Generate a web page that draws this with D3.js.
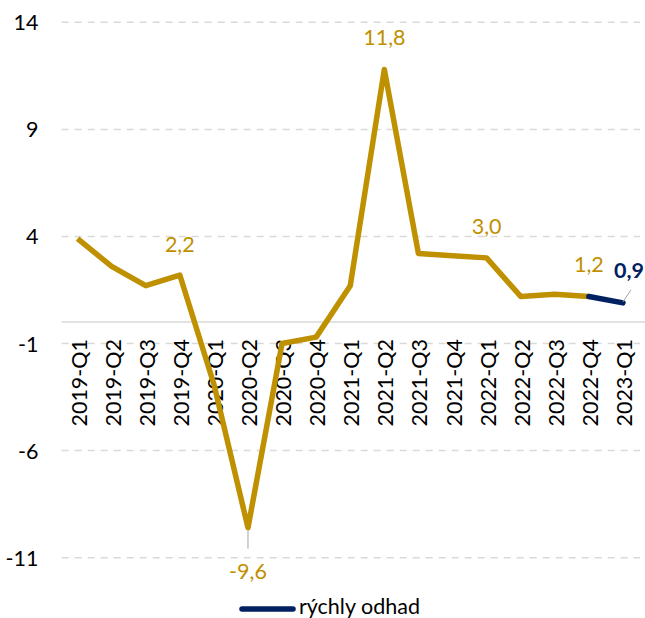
<!DOCTYPE html>
<html>
<head>
<meta charset="utf-8">
<script src="https://cdn.jsdelivr.net/npm/d3@7"></script>
<style>
  html, body { margin: 0; padding: 0; background: #fff; }
  svg { display: block; }
  text { font-family: Lato, "Open Sans", sans-serif; }
</style>
</head>
<body>
<svg id="chart" width="645" height="618"></svg>
<script>
const categories = ["2019-Q1","2019-Q2","2019-Q3","2019-Q4","2020-Q1","2020-Q2","2020-Q3","2020-Q4",
  "2021-Q1","2021-Q2","2021-Q3","2021-Q4","2022-Q1","2022-Q2","2022-Q3","2022-Q4","2023-Q1"];
const gdpValues = [3.9, 2.6, 1.7, 2.2, -2.9, -9.6, -1.0, -0.7, 1.7, 11.8, 3.2, 3.1, 3.0, 1.2, 1.3, 1.2, null];
const flashValues = [null,null,null,null,null,null,null,null,null,null,null,null,null,null,null,1.2,0.9];
const yTicks = [-11, -6, -1, 4, 9, 14];
const labelledPoints = ["2019-Q4","2020-Q2","2021-Q2","2022-Q1","2022-Q4"];
const legendLabel = "rýchly odhad";

const GOLD = "#BF9000", NAVY = "#002060", GRID = "#d9d9d9";
const FS = 21.5;
const svg = d3.select("#chart");

const x = d3.scalePoint().domain(categories).range([60.5, 640]).padding(0.5);
const y = d3.scaleLinear().domain([-11, 14]).range([557.7, 22.3]);

// gridlines
const gridX0 = 61.7, gridX1 = 640;
svg.append("g").selectAll("line").data(yTicks).join("line")
  .attr("x1", gridX0).attr("x2", gridX1)
  .attr("y1", d => y(d)).attr("y2", d => y(d))
  .attr("stroke", GRID).attr("stroke-width", 1.5).attr("stroke-dasharray", "7,6");

// zero line
svg.append("line").attr("x1", gridX0).attr("x2", 645)
  .attr("y1", y(0)).attr("y2", y(0))
  .attr("stroke", GRID).attr("stroke-width", 1.5);

// y axis
const yAxis = d3.axisLeft(y).tickValues(yTicks).tickSize(0).tickPadding(0).tickFormat(d => String(d));
const yg = svg.append("g").attr("transform", "translate(38.5,0)").call(yAxis);
yg.select(".domain").remove();
yg.selectAll("text").attr("font-size", FS).attr("fill", "#000")
  .attr("font-family", "Lato, sans-serif").attr("dy", "0.35em");

// x labels (rotated)
const xg = svg.append("g");
xg.selectAll("text").data(categories).join("text")
  .attr("transform", d => `translate(${x(d) + 1.5},339) rotate(-90)`)
  .attr("text-anchor", "end").attr("dy", "0.35em")
  .attr("font-size", FS).attr("fill", "#000")
  .text(d => d);

// main line
const line = d3.line().defined(d => d[1] != null).x(d => x(d[0])).y(d => y(d[1]));
svg.append("path")
  .datum(categories.map((c, i) => [c, gdpValues[i]]))
  .attr("d", line).attr("fill", "none").attr("stroke", GOLD)
  .attr("stroke-width", 5.5).attr("stroke-linejoin", "round");

svg.append("path")
  .datum(categories.map((c, i) => [c, flashValues[i]]))
  .attr("d", line).attr("fill", "none").attr("stroke", NAVY)
  .attr("stroke-width", 5.5).attr("stroke-linecap", "round").attr("stroke-linejoin", "round");

// data labels
const fmt = v => v.toFixed(1).replace(".", ",");
const labelOffsets = {"2019-Q4": -23, "2021-Q2": -24, "2022-Q1": -24, "2022-Q4": -24};
labelledPoints.forEach(c => {
  const i = categories.indexOf(c);
  const v = gdpValues[i];
  const t = svg.append("text").attr("text-anchor", "middle").attr("font-size", FS).attr("fill", GOLD)
    .attr("x", x(c)).text(fmt(v));
  if (v < 0) {
    t.attr("y", y(v) + 51);
    svg.append("line").attr("x1", x(c)).attr("x2", x(c))
      .attr("y1", y(v) + 3).attr("y2", y(v) + 21)
      .attr("stroke", "#a6a6a6").attr("stroke-width", 1);
  } else {
    t.attr("y", y(v) + labelOffsets[c]);
  }
});

// flash label
const lastC = categories[categories.length - 1];
const lastV = flashValues[flashValues.length - 1];
svg.append("line")
  .attr("x1", x(lastC)).attr("y1", y(lastV) - 1)
  .attr("x2", x(lastC) + 8).attr("y2", y(lastV) - 13)
  .attr("stroke", "#a6a6a6").attr("stroke-width", 1);
svg.append("text").attr("x", x(lastC) - 9).attr("y", y(lastV) - 24.5)
  .attr("font-size", FS).attr("font-weight", "bold").attr("fill", NAVY)
  .text(fmt(lastV));

// legend
svg.append("line").attr("x1", 242).attr("x2", 293).attr("y1", 609).attr("y2", 609)
  .attr("stroke", NAVY).attr("stroke-width", 5.5).attr("stroke-linecap", "round");
svg.append("text").attr("x", 299).attr("y", 614).attr("font-size", 21.5).attr("fill", "#000")
  .text(legendLabel);
</script>
</body>
</html>
